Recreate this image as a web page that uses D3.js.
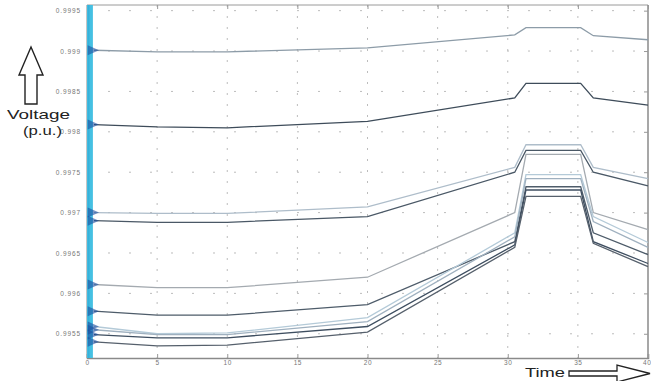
<!DOCTYPE html>
<html><head><meta charset="utf-8">
<script src="https://cdn.jsdelivr.net/npm/d3@7/dist/d3.min.js"></script>
<style>body{margin:0;background:#fff}svg{display:block}text{font-family:Arial,"Liberation Sans",sans-serif}</style>
</head><body>
<script>
const times = [0.5, 5, 10, 20, 30.5, 31.3, 35.2, 36.1, 40];
const L1 = [0.99901, 0.99899, 0.99899, 0.99904, 0.99920, 0.99929, 0.99929, 0.99919, 0.99914];
const L2 = [0.99809, 0.99806, 0.99805, 0.99813, 0.99842, 0.99860, 0.99860, 0.99842, 0.99833];
const L3 = [0.99700, 0.99699, 0.99699, 0.99707, 0.99756, 0.99784, 0.99784, 0.99756, 0.99742];
const L4 = [0.99690, 0.99688, 0.99688, 0.99695, 0.99750, 0.99777, 0.99777, 0.99750, 0.99733];
const L5 = [0.99611, 0.99607, 0.99607, 0.99620, 0.99700, 0.99772, 0.99772, 0.99700, 0.99679];
const L6 = [0.99578, 0.99573, 0.99573, 0.99586, 0.99664, 0.99732, 0.99732, 0.99675, 0.99648];
const L7 = [0.99559, 0.99550, 0.99551, 0.99570, 0.99675, 0.99747, 0.99747, 0.99695, 0.99663];
const L8 = [0.99555, 0.99549, 0.99549, 0.99565, 0.99670, 0.99742, 0.99742, 0.99689, 0.99657];
const L9 = [0.99549, 0.99545, 0.99545, 0.99559, 0.99660, 0.99728, 0.99728, 0.99664, 0.99637];
const L10 = [0.99540, 0.99535, 0.99536, 0.99552, 0.99657, 0.99720, 0.99720, 0.99662, 0.99633];
const seriesList = [L1, L2, L3, L4, L5, L6, L7, L8, L9, L10];
const seriesColors = ["#8d9ca8", "#3e4c5a", "#aebdca", "#4a5866", "#a4aab0", "#4e5c6a", "#b4cad8", "#9fb0bf", "#3e4e60", "#56606c"];
const yTickValues = [0.9955, 0.996, 0.9965, 0.997, 0.9975, 0.998, 0.9985, 0.999, 0.9995];
const yTickLabels = ["0.9955", "0.996", "0.9965", "0.997", "0.9975", "0.998", "0.9985", "0.999", "0.9995"];
const xTickValues = [0, 5, 10, 15, 20, 25, 30, 35, 40];
const xTickLabels = ["0", "5", "10", "15", "20", "25", "30", "35", "40"];

const W = 651, H = 381;
const svg = d3.select("body").append("svg").attr("width", W).attr("height", H);
svg.append("rect").attr("width", W).attr("height", H).attr("fill", "#fff");

const x = d3.scaleLinear().domain([0, 40]).range([87, 648]);
const y = d3.scaleLinear().domain([0.99520, 0.99957]).range([358, 5]);

// grid
const grid = svg.append("g");
xTickValues.slice(1, -1).forEach(t => {
  grid.append("line").attr("x1", x(t)).attr("x2", x(t)).attr("y1", 5).attr("y2", 358)
    .attr("stroke", "#bcbcbc").attr("stroke-width", 1).attr("stroke-dasharray", "2,9");
});
yTickValues.forEach(v => {
  grid.append("line").attr("x1", 87).attr("x2", 648).attr("y1", y(v)).attr("y2", y(v))
    .attr("stroke", "#bcbcbc").attr("stroke-width", 1).attr("stroke-dasharray", "2,19");
});

// frame
svg.append("line").attr("x1", 87).attr("x2", 648).attr("y1", 5).attr("y2", 5).attr("stroke", "#9a9a9a");
svg.append("line").attr("x1", 648).attr("x2", 648).attr("y1", 5).attr("y2", 358).attr("stroke", "#8a8a8a").attr("stroke-width", 1.5);
svg.append("line").attr("x1", 87).attr("x2", 87).attr("y1", 5).attr("y2", 358).attr("stroke", "#8a8a8a");

// axes
const xAxis = d3.axisBottom(x).tickValues(xTickValues).tickFormat((d, i) => xTickLabels[i]).tickSize(-4).tickPadding(2);
const gx = svg.append("g").attr("transform", "translate(0,358)").call(xAxis);
gx.select(".domain").attr("stroke", "#8a8a8a").attr("stroke-width", 1.6);
gx.selectAll(".tick line").attr("stroke", "#999");
gx.selectAll(".tick text").attr("fill", "#777").attr("font-size", 6.5).attr("letter-spacing", 0.6);
gx.selectAll(".tick text").filter((d, i) => i === xTickValues.length - 1).attr("text-anchor", "end").attr("dx", 3);

const yAxis = d3.axisLeft(y).tickValues(yTickValues).tickFormat((d, i) => yTickLabels[i]).tickSize(-4).tickPadding(6);
const gy = svg.append("g").attr("transform", "translate(87,0)").call(yAxis);
gy.select(".domain").remove();
gy.selectAll(".tick line").attr("stroke", "#999");
gy.selectAll(".tick text").attr("fill", "#777").attr("font-size", 6.5).attr("letter-spacing", 0.9);

const yAxisR = d3.axisRight(y).tickValues(yTickValues).tickFormat("").tickSize(-4);
const gyr = svg.append("g").attr("transform", "translate(648,0)").call(yAxisR);
gyr.select(".domain").remove();
gyr.selectAll(".tick line").attr("stroke", "#999");

const xAxisT = d3.axisTop(x).tickValues(xTickValues).tickFormat("").tickSize(-4);
const gxt = svg.append("g").attr("transform", "translate(0,5)").call(xAxisT);
gxt.select(".domain").remove();
gxt.selectAll(".tick line").attr("stroke", "#999");

// start transient band
svg.append("rect").attr("x", x(0)).attr("y", 5).attr("width", x(0.42) - x(0)).attr("height", 353)
  .attr("fill", "#45c0e2");
svg.append("rect").attr("x", x(0.05)).attr("y", 5).attr("width", x(0.18) - x(0.05)).attr("height", 353)
  .attr("fill", "#2fa6d6").attr("opacity", 0.6);

// lines
const line = d3.line().x((d, i) => x(times[i])).y(d => y(d));
seriesList.forEach((s, k) => {
  svg.append("path").datum(s).attr("d", line).attr("fill", "none")
    .attr("stroke", seriesColors[k]).attr("stroke-width", 1.3);
});

// flares at line starts
seriesList.forEach((s, k) => {
  const v = s[0], cx = x(times[0]), cy = y(v);
  svg.append("path")
    .attr("d", `M${x(0.05)},${cy - 5}L${cx + 5},${cy}L${x(0.05)},${cy + 5}Z`)
    .attr("fill", "#1c4ea0").attr("opacity", 0.6);
});

// Voltage label + arrow
svg.append("path").attr("d", "M31,47 L43,75 L37,75 L37,104 L25,104 L25,75 L19,75 Z")
  .attr("fill", "#fff").attr("stroke", "#222").attr("stroke-width", 1.4);
svg.append("text").attr("x", 7).attr("y", 119).attr("font-size", 13).attr("fill", "#222")
  .attr("textLength", 63).attr("lengthAdjust", "spacingAndGlyphs").text("Voltage");
svg.append("text").attr("x", 23).attr("y", 135).attr("font-size", 13).attr("fill", "#222")
  .attr("textLength", 39).attr("lengthAdjust", "spacingAndGlyphs").text("(p.u.)");

// Time label + arrow
svg.append("text").attr("x", 525).attr("y", 377).attr("font-size", 13).attr("fill", "#222")
  .attr("textLength", 40).attr("lengthAdjust", "spacingAndGlyphs").text("Time");
svg.append("path").attr("d", "M569,371 L617,371 L617,365 L650,373.5 L617,382 L617,376 L569,376 Z")
  .attr("fill", "#fff").attr("stroke", "#222").attr("stroke-width", 1.3);
</script>
</body></html>
